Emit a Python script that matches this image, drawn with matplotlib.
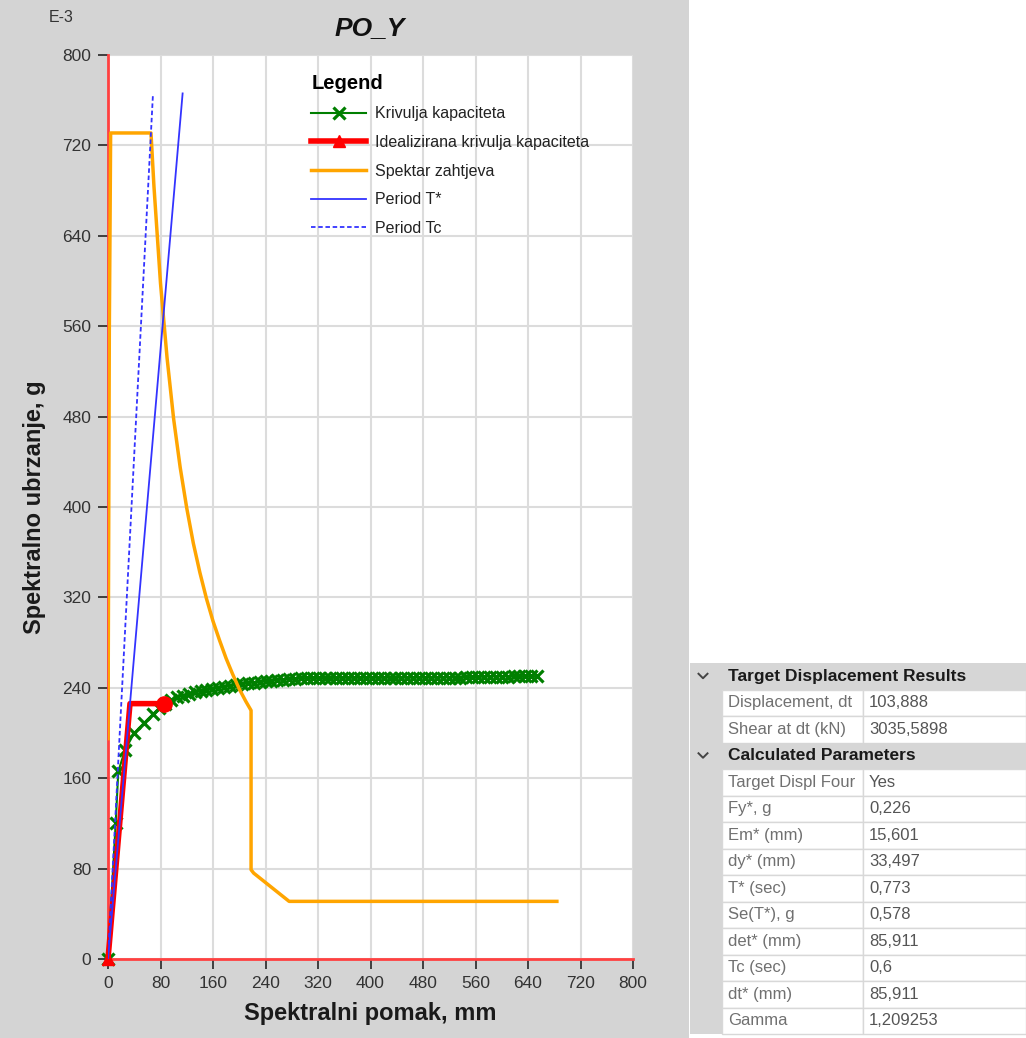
"""
Pushover PO_Y - ADRS chart with N2 result table
"""
import matplotlib
matplotlib.use("Agg")
import matplotlib.pyplot as plt
from matplotlib.patches import Rectangle
from matplotlib.lines import Line2D

plt.rcParams['font.family'] = ['Liberation Sans', 'DejaVu Sans']

W, H = 1026, 1038

# capacity curve (Sd mm, Sa E-3 g)
cap_sd = [0, 11.7, 15.7, 26, 40, 55, 69, 78, 87, 96, 105, 114, 123, 132, 141, 150, 159,
          168, 177, 186, 195, 204, 213, 222, 231, 240, 249, 258, 267, 276, 285, 294, 303,
          312, 321, 330, 339, 348, 357, 366, 375, 384, 393, 402, 411, 420, 429, 438, 447,
          456, 465, 474, 483, 492, 501, 510, 519, 528, 537, 546, 555, 564, 573, 582, 591,
          600, 609, 618, 627, 636, 645, 654]
cap_sa = [0, 120, 166, 185, 200, 209, 217, 222, 226, 229, 231.5, 233, 234.5, 236, 237, 238, 239,
          240, 241, 241.8, 242.5, 243.2, 244, 244.6, 245.2, 245.8, 246.3, 246.8, 247.2, 247.6, 248, 248.3, 248.5,
          248.6, 248.7, 248.7, 248.7, 248.8, 248.8, 248.8, 248.8, 248.8, 248.8, 248.8, 248.8, 248.8, 248.9, 248.9, 248.9,
          248.9, 248.9, 248.9, 248.9, 248.9, 248.9, 249, 249, 249, 249, 249.2, 249.4, 249.6, 249.8, 250, 250,
          250, 250, 250.1, 250.1, 250.1, 250.1, 250.1]

# idealized bilinear curve
ideal_sd = [0, 33.5, 85.9]
ideal_sa = [0, 226, 226]

# demand spectrum
dem_sd = [0, 1, 2, 3, 4, 65.5, 70, 80, 90, 100, 110, 120, 130, 140, 150, 160, 170, 180,
          190, 200, 210, 218, 218, 222, 276, 684]
dem_sa = [195, 370, 555, 640, 731, 731, 684, 598, 532, 478, 435, 399, 368, 342, 319, 299, 282, 266,
          252, 239, 228, 220, 79, 76, 51, 51]

# period lines
t_star_sd = [0, 113.7]
t_star_sa = [0, 766]
tc_sd = [0, 68.4]
tc_sa = [0, 764]

ticks = [0, 80, 160, 240, 320, 400, 480, 560, 640, 720, 800]

# table
sec1_title = "Target Displacement Results"
sec1_labels = ["Displacement, dt", "Shear at dt (kN)"]
sec1_values = ["103,888", "3035,5898"]
sec2_title = "Calculated Parameters"
sec2_labels = ["Target Displ Four", "Fy*, g", "Em* (mm)", "dy* (mm)", "T* (sec)",
               "Se(T*), g", "det* (mm)", "Tc (sec)", "dt* (mm)", "Gamma"]
sec2_values = ["Yes", "0,226", "15,601", "33,497", "0,773", "0,578", "85,911", "0,6",
               "85,911", "1,209253"]


def fx(px):
    return px / W


def fy(py):
    return 1 - py / H


fig = plt.figure(figsize=(W / 100, H / 100), dpi=100)
fig.patch.set_facecolor('white')
fig.add_artist(Rectangle((0, 0), fx(689), 1, transform=fig.transFigure,
                         facecolor='#d4d4d4', edgecolor='none', zorder=-5))

ax = fig.add_axes([fx(108), fy(959), fx(633) - fx(108), fy(55) - fy(959)])
ax.set_facecolor('white')

ax.plot(cap_sd, cap_sa, color='#007f00', lw=1.5, marker='x', ms=8, mew=2.3,
        label='Krivulja kapaciteta', zorder=3, clip_on=False)
ax.plot(ideal_sd, ideal_sa, color='#ff0000', lw=4, marker='^', ms=8, markevery=[0],
        label='Idealizirana krivulja kapaciteta', zorder=4, clip_on=False)
ax.plot(ideal_sd[-1:], ideal_sa[-1:], color='#ff0000', marker='o', ms=11, ls='none', zorder=4)
ax.plot(dem_sd, dem_sa, color='#ffa500', lw=2.5, label='Spektar zahtjeva', zorder=5)
ax.plot(t_star_sd, t_star_sa, color='#3333ff', lw=1.3, label='Period T*', zorder=6)
ax.plot(tc_sd, tc_sa, color='#3333ff', lw=1.3, ls=(0, (2.5, 1.5)), label='Period Tc', zorder=6)

ax.set_xlim(0, 800)
ax.set_ylim(0, 800)
ax.set_xticks(ticks)
ax.set_yticks(ticks)
ax.grid(True, color='#dcdcdc', lw=1.5, zorder=0)
ax.set_axisbelow(True)
for s in ['top', 'right']:
    ax.spines[s].set_visible(False)
for s in ['left', 'bottom']:
    ax.spines[s].set_color('#ff4040')
    ax.spines[s].set_linewidth(2)
ax.tick_params(axis='both', direction='out', length=7, width=1.3, color='#333333',
               labelcolor='#333333', labelsize=12.5, pad=5)

ax.set_xlabel('Spektralni pomak, mm', fontsize=17, fontweight='bold', color='#1a1a1a', labelpad=8)
ax.set_ylabel('Spektralno ubrzanje, g', fontsize=17, fontweight='bold', color='#1a1a1a', labelpad=12)
fig.text(fx(370), fy(28), 'PO_Y', fontsize=19, fontweight='bold', fontstyle='italic',
         ha='center', va='center', color='#111111')
fig.text(fx(61), fy(18), 'E-3', fontsize=11.5, ha='center', va='center', color='#333333')

leg = ax.legend(loc='upper left', bbox_to_anchor=(0.36, 0.995), frameon=False, title='Legend',
                title_fontproperties={'weight': 'bold', 'size': 14.5}, fontsize=11.5,
                numpoints=1, handlelength=3.4, handletextpad=0.6, labelspacing=0.85,
                alignment='left')
for t in leg.get_texts():
    t.set_color('#222222')

# ---- table on the right
x0, xl, xv, x1 = 690, 722, 863, 1026
row_h = 26.5
y = 663
fig.add_artist(Rectangle((fx(x0), fy(1034)), fx(xl) - fx(x0), fy(y) - fy(1034),
                         transform=fig.transFigure, facecolor='#d6d6d6', edgecolor='none'))


def header(y, text):
    fig.add_artist(Rectangle((fx(x0), fy(y + row_h)), fx(x1) - fx(x0), row_h / H,
                             transform=fig.transFigure, facecolor='#d6d6d6', edgecolor='none'))
    cx, cy = 703, y + row_h / 2
    fig.add_artist(Line2D([fx(cx - 4.5), fx(cx), fx(cx + 4.5)], [fy(cy - 2.5), fy(cy + 2), fy(cy - 2.5)],
                          transform=fig.transFigure, color='#444444', lw=1.4))
    fig.text(fx(728), fy(cy), text, fontsize=12.5, fontweight='bold', color='#1a1a1a',
             ha='left', va='center')


def row(y, label, value):
    for a, b in [(xl, xv), (xv, x1)]:
        fig.add_artist(Rectangle((fx(a), fy(y + row_h)), fx(b) - fx(a), row_h / H,
                                 transform=fig.transFigure, facecolor='white',
                                 edgecolor='#d8d8d8', lw=1))
    fig.text(fx(728), fy(y + row_h / 2), label, fontsize=12, color='#707070', ha='left', va='center')
    fig.text(fx(869), fy(y + row_h / 2), value, fontsize=12, color='#555555', ha='left', va='center')


header(y, sec1_title)
y += row_h
for lab, val in zip(sec1_labels, sec1_values):
    row(y, lab, val)
    y += row_h
header(y, sec2_title)
y += row_h
for lab, val in zip(sec2_labels, sec2_values):
    row(y, lab, val)
    y += row_h

fig.savefig('out.png', dpi=100)
